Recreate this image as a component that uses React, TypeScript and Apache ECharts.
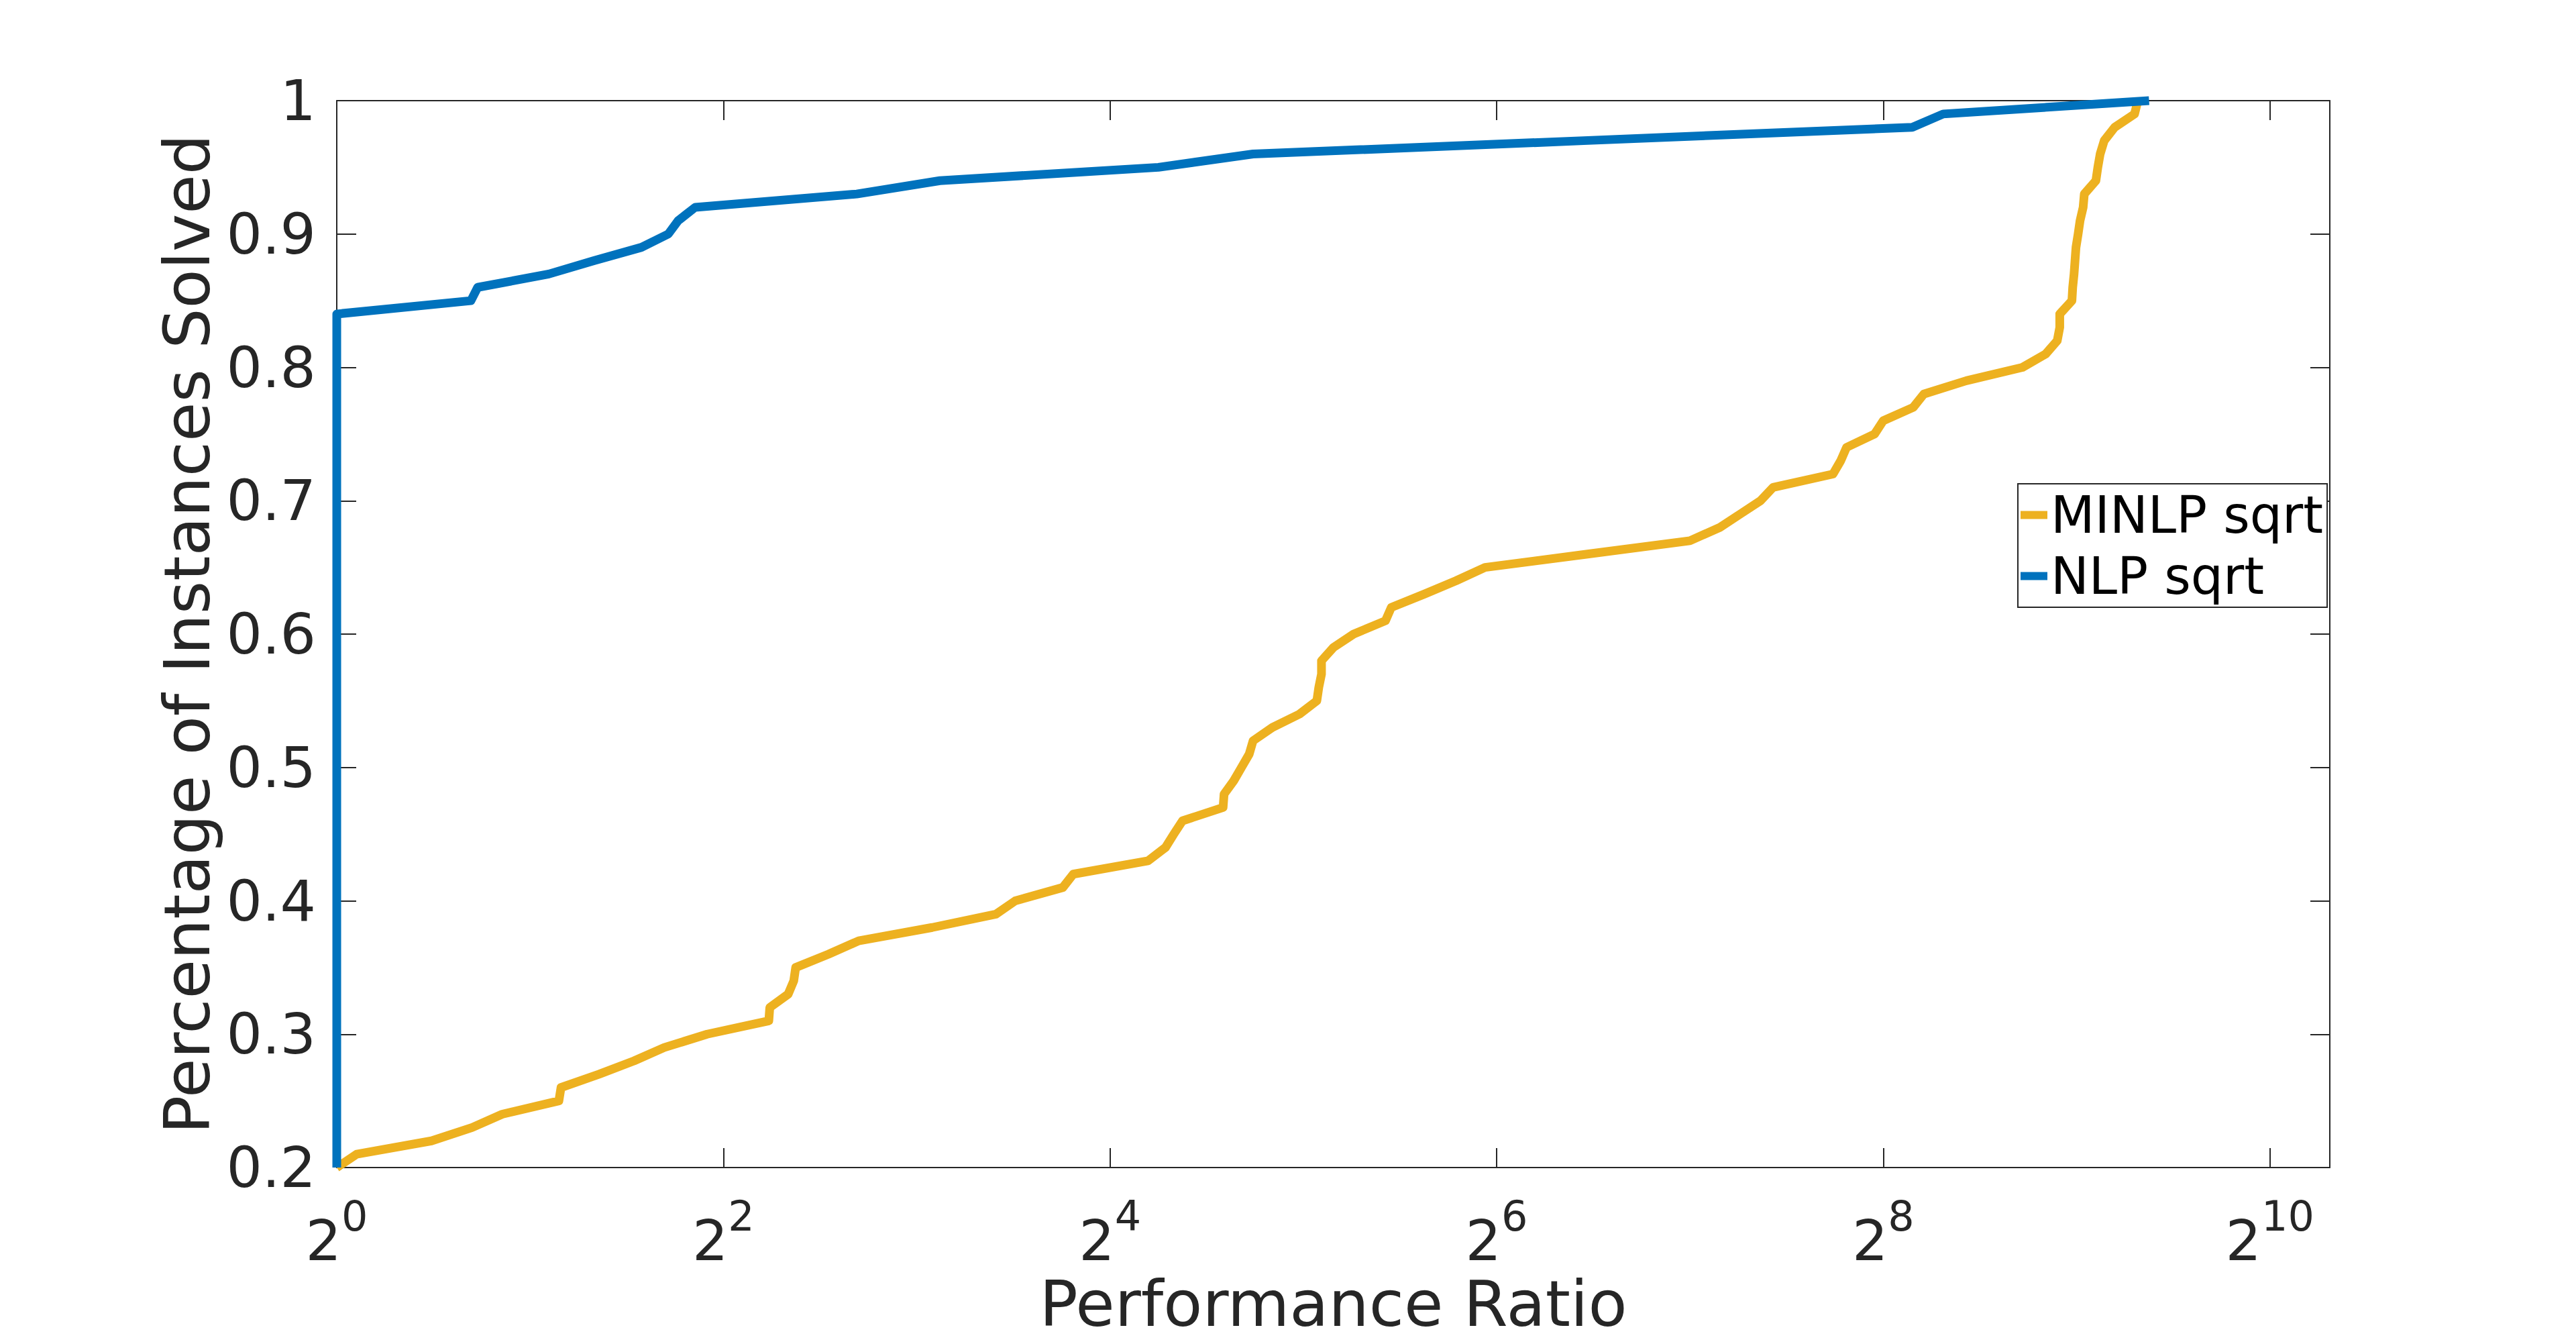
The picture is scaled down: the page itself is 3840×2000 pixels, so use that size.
import React, { useEffect, useRef } from "react";
import * as echarts from "echarts";

// ---- data (x values are log2 of the performance ratio) ----
const X_TICK_STEP = 2; // ticks at 2^0, 2^2, ... 2^10
const X_MAX_LOG2 = 10.31;
const Y_MIN = 0.2;
const Y_MAX = 1;

const minlpLog2Ratio = [
  0, 0.103, 0.49, 0.7, 0.856, 1.149, 1.16, 1.357, 1.538, 1.694,
  1.916, 2.235, 2.24, 2.335, 2.364, 2.374, 2.544, 2.7, 3.08, 3.41,
  3.51, 3.756, 3.81, 4.197, 4.287, 4.33, 4.375, 4.585, 4.59, 4.64,
  4.68, 4.72, 4.74, 4.84, 4.98, 5.07, 5.08, 5.094, 5.094, 5.156,
  5.26, 5.425, 5.455, 5.626, 5.79, 5.94, 6.47, 7.0, 7.155, 7.26,
  7.365, 7.43, 7.74, 7.78, 7.81, 7.955, 8.0, 8.155, 8.21, 8.43,
  8.72, 8.84, 8.9, 8.913, 8.913, 8.976, 8.98, 8.987, 8.992, 8.997,
  9.008, 9.018, 9.034, 9.04, 9.1, 9.11, 9.122, 9.143, 9.197, 9.3,
  9.317,
];
const minlpSolved = [
  0.2, 0.21, 0.22, 0.23, 0.24, 0.25, 0.26, 0.27, 0.28, 0.29,
  0.3, 0.31, 0.32, 0.33, 0.34, 0.35, 0.36, 0.37, 0.38, 0.39,
  0.4, 0.41, 0.42, 0.43, 0.44, 0.45, 0.46, 0.47, 0.48, 0.49,
  0.5, 0.51, 0.52, 0.53, 0.54, 0.55, 0.56, 0.57, 0.58, 0.59,
  0.6, 0.61, 0.62, 0.63, 0.64, 0.65, 0.66, 0.67, 0.68, 0.69,
  0.7, 0.71, 0.72, 0.73, 0.74, 0.75, 0.76, 0.77, 0.78, 0.79,
  0.8, 0.81, 0.82, 0.83, 0.84, 0.85, 0.86, 0.87, 0.88, 0.89,
  0.9, 0.91, 0.92, 0.93, 0.94, 0.95, 0.96, 0.97, 0.98, 0.99,
  1.0,
];

const nlpLog2Ratio = [
  0, 0, 0.694, 0.729, 1.097, 1.33, 1.576, 1.715, 1.766, 1.854,
  2.69, 3.12, 4.25, 4.74, 6.45, 8.15, 8.31, 9.375,
];
const nlpSolved = [
  0.2, 0.84, 0.85, 0.86, 0.87, 0.88, 0.89, 0.9, 0.91, 0.92,
  0.93, 0.94, 0.95, 0.96, 0.97, 0.98, 0.99, 1.0,
];

const seriesNames = ["MINLP sqrt", "NLP sqrt"];
const seriesColors = ["#EDB120", "#0072BD"];

const FONT = "'DejaVu Sans', sans-serif";
const AXIS_COLOR = "#262626";

export default function App() {
  const ref = useRef<HTMLDivElement>(null);

  useEffect(() => {
    if (!ref.current) return;
    const chart = echarts.init(ref.current, null, { renderer: "svg" });

    const pairs = (xs: number[], ys: number[]) => xs.map((x, i) => [x, ys[i]]);

    const tickStyle = { color: AXIS_COLOR, width: 2 };
    const baseX = {
      type: "value",
      min: 0,
      max: X_MAX_LOG2,
      interval: X_TICK_STEP,
      splitLine: { show: false },
      axisLine: { show: true, onZero: false, lineStyle: tickStyle },
      axisTick: { show: true, inside: true, length: 29, lineStyle: tickStyle },
    };
    const baseY = {
      type: "value",
      min: Y_MIN,
      max: Y_MAX,
      interval: 0.1,
      splitLine: { show: false },
      axisLine: { show: true, onZero: false, lineStyle: tickStyle },
      axisTick: { show: true, inside: true, length: 29, lineStyle: tickStyle },
    };

    chart.setOption({
      animation: false,
      backgroundColor: "#ffffff",
      textStyle: { fontFamily: FONT },
      grid: { left: 502, right: 367, top: 150, bottom: 260, containLabel: false },
      xAxis: [
        {
          ...baseX,
          position: "bottom",
          name: "Performance Ratio",
          nameLocation: "middle",
          nameGap: 148,
          nameTextStyle: { fontSize: 95, color: AXIS_COLOR, fontFamily: FONT },
          axisLabel: {
            margin: 41,
            color: AXIS_COLOR,
            formatter: (v: number) =>
              Math.abs(v - Math.round(v)) < 1e-9 ? `{b|2}{s|${Math.round(v)}}` : "",
            rich: {
              b: { fontSize: 84, fontFamily: FONT, color: AXIS_COLOR, lineHeight: 110, verticalAlign: "bottom" },
              s: { fontSize: 62, fontFamily: FONT, color: AXIS_COLOR, lineHeight: 40, verticalAlign: "top" },
            },
          },
        },
        {
          ...baseX,
          position: "top",
          axisLabel: { show: false },
        },
      ],
      yAxis: [
        {
          ...baseY,
          position: "left",
          name: "Percentage of Instances Solved",
          nameLocation: "middle",
          nameRotate: 90,
          nameGap: 160,
          nameTextStyle: { fontSize: 95, color: AXIS_COLOR, fontFamily: FONT },
          axisLabel: {
            margin: 31,
            fontSize: 84,
            color: AXIS_COLOR,
            fontFamily: FONT,
            formatter: (v: number) => String(+v.toFixed(1)),
          },
        },
        {
          ...baseY,
          position: "right",
          axisLabel: { show: false },
        },
      ],
      legend: {
        orient: "vertical",
        left: 3008,
        top: 721,
        icon: "rect",
        itemWidth: 40,
        itemHeight: 12,
        itemGap: 0,
        padding: [1, 6, 1, 4],
        borderColor: AXIS_COLOR,
        borderWidth: 2,
        backgroundColor: "#ffffff",
        itemStyle: { borderWidth: 0 },
        textStyle: { fontSize: 76, color: "#000000", fontFamily: FONT, lineHeight: 91 },
        data: seriesNames,
      },
      series: [
        {
          name: seriesNames[0],
          type: "line",
          data: pairs(minlpLog2Ratio, minlpSolved),
          showSymbol: false,
          symbol: "none",
          clip: false,
          color: seriesColors[0],
          itemStyle: { color: seriesColors[0] },
          lineStyle: { color: seriesColors[0], width: 13, join: "round" },
        },
        {
          name: seriesNames[1],
          type: "line",
          data: pairs(nlpLog2Ratio, nlpSolved),
          showSymbol: false,
          symbol: "none",
          clip: false,
          color: seriesColors[1],
          itemStyle: { color: seriesColors[1] },
          lineStyle: { color: seriesColors[1], width: 13, join: "round" },
        },
      ],
    });

    return () => chart.dispose();
  }, []);

  return (
    <div
      ref={ref}
      style={{ position: "fixed", left: 0, top: 0, width: 3840, height: 2000, background: "#ffffff" }}
    />
  );
}
